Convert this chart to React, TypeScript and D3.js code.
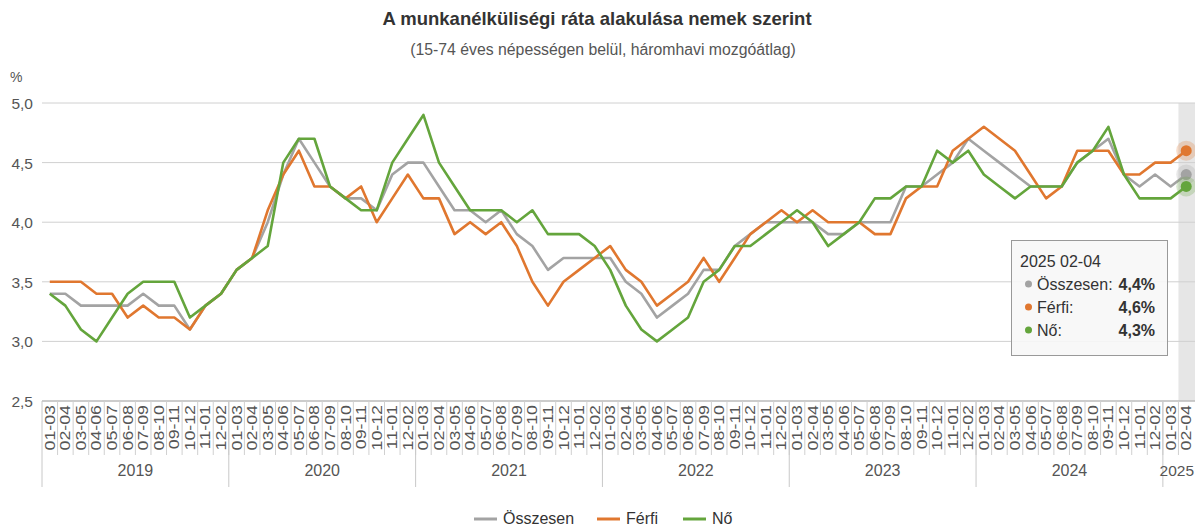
import React from "react";
import * as d3 from "d3";

const years = ["2019", "2020", "2021", "2022", "2023", "2024", "2025"];
const periods = ["01-03", "02-04", "03-05", "04-06", "05-07", "06-08", "07-09", "08-10", "09-11", "10-12", "11-01", "12-02"];
const periodsPerYear = [12, 12, 12, 12, 12, 12, 2];

const seriesNames = ["Összesen", "Férfi", "Nő"];
const seriesColors = ["#a3a3a3", "#e0772f", "#64a53c"];

const osszesen = [
  3.4, 3.4, 3.3, 3.3, 3.3, 3.3, 3.4, 3.3, 3.3, 3.1, 3.3, 3.4,
  3.6, 3.7, 4.0, 4.4, 4.7, 4.5, 4.3, 4.2, 4.2, 4.1, 4.4, 4.5,
  4.5, 4.3, 4.1, 4.1, 4.0, 4.1, 3.9, 3.8, 3.6, 3.7, 3.7, 3.7,
  3.7, 3.5, 3.4, 3.2, 3.3, 3.4, 3.6, 3.6, 3.8, 3.9, 4.0, 4.0,
  4.0, 4.0, 3.9, 3.9, 4.0, 4.0, 4.0, 4.3, 4.3, 4.4, 4.5, 4.7,
  4.6, 4.5, 4.4, 4.3, 4.3, 4.3, 4.5, 4.6, 4.7, 4.4, 4.3, 4.4,
  4.3, 4.4,
];
const ferfi = [
  3.5, 3.5, 3.5, 3.4, 3.4, 3.2, 3.3, 3.2, 3.2, 3.1, 3.3, 3.4,
  3.6, 3.7, 4.1, 4.4, 4.6, 4.3, 4.3, 4.2, 4.3, 4.0, 4.2, 4.4,
  4.2, 4.2, 3.9, 4.0, 3.9, 4.0, 3.8, 3.5, 3.3, 3.5, 3.6, 3.7,
  3.8, 3.6, 3.5, 3.3, 3.4, 3.5, 3.7, 3.5, 3.7, 3.9, 4.0, 4.1,
  4.0, 4.1, 4.0, 4.0, 4.0, 3.9, 3.9, 4.2, 4.3, 4.3, 4.6, 4.7,
  4.8, 4.7, 4.6, 4.4, 4.2, 4.3, 4.6, 4.6, 4.6, 4.4, 4.4, 4.5,
  4.5, 4.6,
];
const no = [
  3.4, 3.3, 3.1, 3.0, 3.2, 3.4, 3.5, 3.5, 3.5, 3.2, 3.3, 3.4,
  3.6, 3.7, 3.8, 4.5, 4.7, 4.7, 4.3, 4.2, 4.1, 4.1, 4.5, 4.7,
  4.9, 4.5, 4.3, 4.1, 4.1, 4.1, 4.0, 4.1, 3.9, 3.9, 3.9, 3.8,
  3.6, 3.3, 3.1, 3.0, 3.1, 3.2, 3.5, 3.6, 3.8, 3.8, 3.9, 4.0,
  4.1, 4.0, 3.8, 3.9, 4.0, 4.2, 4.2, 4.3, 4.3, 4.6, 4.5, 4.6,
  4.4, 4.3, 4.2, 4.3, 4.3, 4.3, 4.5, 4.6, 4.8, 4.4, 4.2, 4.2,
  4.2, 4.3,
];
const yTicks = [2.5, 3.0, 3.5, 4.0, 4.5, 5.0];

const W = 1195;
const H = 528;
const FONT = "'Liberation Sans', Arial, sans-serif";

type Cat = { year: string; period: string; key: string };

export default function App() {
  const cats: Cat[] = [];
  years.forEach((y, yi) => {
    for (let p = 0; p < periodsPerYear[yi]; p++) {
      cats.push({ year: y, period: periods[p], key: y + " " + periods[p] });
    }
  });
  const data = [osszesen, ferfi, no];

  const left = 42;
  const right = 1194;
  const x = d3.scaleBand<string>().domain(cats.map((c) => c.key)).range([left, right]).padding(0);
  const y = d3.scaleLinear().domain([2.5, 5.0]).range([401, 103]);
  const bw = x.bandwidth();
  const cx = (i: number) => (x(cats[i].key) as number) + bw / 2;
  const fmt = (v: number) => d3.format(".1f")(v).replace(".", ",");

  const line = d3
    .line<number>()
    .x((_, i) => cx(i))
    .y((v) => y(v));

  const last = cats.length - 1;
  const lastX = cx(last);

  let idx = 0;
  const yearSpans = years.map((yr, yi) => {
    const start = x(cats[idx].key) as number;
    idx += periodsPerYear[yi];
    const end = idx < cats.length ? (x(cats[idx].key) as number) : right;
    return { yr, start, end };
  });

  const legendItems = [
    { name: seriesNames[0], color: seriesColors[0], x: 474 },
    { name: seriesNames[1], color: seriesColors[1], x: 597 },
    { name: seriesNames[2], color: seriesColors[2], x: 683 },
  ];

  return (
    <div style={{ position: "absolute", left: 0, top: 0 }}>
      <svg width={W} height={H} style={{ display: "block", fontFamily: FONT }}>
        <rect x={0} y={0} width={W} height={H} fill="#fff" />
        <text x={597} y={25} textAnchor="middle" fontSize={18.5} fontWeight="bold" fill="#333">
          A munkanélküliségi ráta alakulása nemek szerint
        </text>
        <text x={603} y={55} textAnchor="middle" fontSize={15.8} fill="#555">
          (15-74 éves népességen belül, háromhavi mozgóátlag)
        </text>

        {/* highlight band */}
        <rect x={x(cats[last].key) as number} y={103} width={bw + 2} height={298} fill="#e6e6e6" />

        {/* grid */}
        {yTicks.map((t) => (
          <g key={t}>
            <line x1={left} x2={W} y1={y(t)} y2={y(t)} stroke={t === 2.5 ? "#bbb" : "#d0d0d0"} strokeWidth={t === 2.5 ? 1.5 : 1} />
            <text x={33} y={y(t) + 6} textAnchor="end" fontSize={15.5} fill="#555">
              {fmt(t)}
            </text>
          </g>
        ))}
        <text x={10} y={82} fontSize={14} fill="#555">%</text>

        {/* x axis separators */}
        {cats.map((c, i) =>
          i === 0 ? null : (
            <line key={"s" + i} x1={x(c.key) as number} x2={x(c.key) as number} y1={401} y2={455} stroke="#d0d0d0" strokeWidth={1} />
          )
        )}
        {yearSpans.map((s) => (
          <line key={"ys" + s.yr} x1={s.start} x2={s.start} y1={401} y2={487} stroke="#c8c8c8" strokeWidth={1} />
        ))}
        {cats.map((c, i) => (
          <text
            key={"l" + i}
            transform={`translate(${cx(i) + 5},${405}) rotate(-90) scale(1.27,1)`}
            textAnchor="end"
            fontSize={14}
            fill="#555"
          >
            {c.period}
          </text>
        ))}
        {yearSpans.map((s) => (
          <text
            key={"yl" + s.yr}
            x={s.yr === "2025" ? W - 1 : (s.start + s.end) / 2}
            y={476}
            textAnchor={s.yr === "2025" ? "end" : "middle"}
            fontSize={s.yr === "2025" ? 15.5 : 16}
            fill="#555"
          >
            {s.yr}
          </text>
        ))}

        {/* lines */}
        {data.map((d, si) => (
          <path key={"p" + si} d={line(d) as string} fill="none" stroke={seriesColors[si]} strokeWidth={2.6} strokeLinejoin="round" />
        ))}

        {/* hover markers */}
        {data.map((d, si) => (
          <g key={"m" + si}>
            <circle cx={lastX} cy={y(d[last])} r={10} fill={seriesColors[si]} opacity={0.25} />
            <circle cx={lastX} cy={y(d[last])} r={5.5} fill={seriesColors[si]} />
          </g>
        ))}

        {/* tooltip */}
        <g>
          <rect x={1011.5} y={240.5} width={156} height={115} fill="#f7f7f7" fillOpacity={0.9} stroke="#999" strokeWidth={1} />
          <text x={1020} y={267} fontSize={16} fill="#333">
            {cats[last].key}
          </text>
          {data.map((d, si) => (
            <g key={"t" + si}>
              <circle cx={1028.5} cy={284 + si * 23} r={3.5} fill={seriesColors[si]} />
              <text x={1037} y={290 + si * 23} fontSize={16} fill="#333">
                {seriesNames[si] + ":"}
              </text>
              <text x={1155} y={290 + si * 23} fontSize={16} fontWeight="bold" fill="#333" textAnchor="end">
                {fmt(d[last]) + "%"}
              </text>
            </g>
          ))}
        </g>

        {/* legend */}
        {legendItems.map((it) => (
          <g key={"lg" + it.name}>
            <line x1={it.x} x2={it.x + 23} y1={519} y2={519} stroke={it.color} strokeWidth={3} />
            <text x={it.x + 29} y={524} fontSize={16} fill="#333">
              {it.name}
            </text>
          </g>
        ))}
      </svg>
    </div>
  );
}
